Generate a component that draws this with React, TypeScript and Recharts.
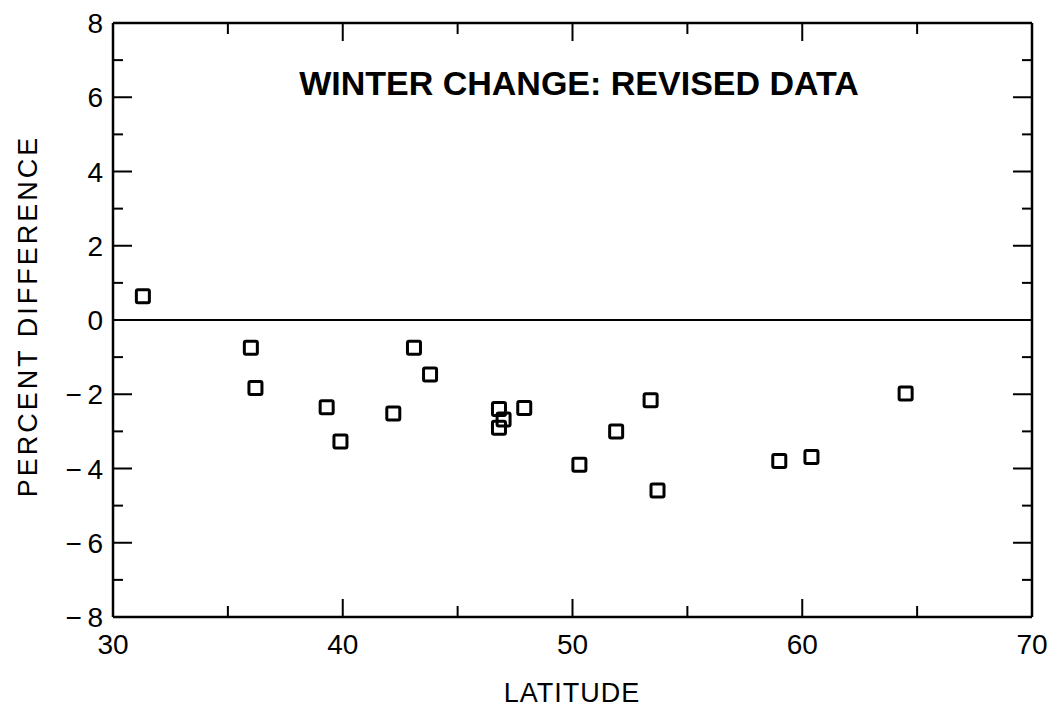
import React from "react";
import { ScatterChart, Scatter, XAxis, YAxis, ReferenceLine } from "recharts";

// latitude (deg) vs winter percent difference
const latitude = [31.3, 36.0, 36.2, 39.3, 39.9, 42.2, 43.1, 43.8, 46.8, 47.0, 46.8, 47.9, 50.3, 51.9, 53.4, 53.7, 59.0, 60.4, 64.5];
const percentDiff = [0.64, -0.75, -1.83, -2.35, -3.27, -2.52, -0.75, -1.47, -2.4, -2.68, -2.9, -2.37, -3.9, -3.0, -2.16, -4.59, -3.8, -3.69, -1.98];

const xTicks = [30, 35, 40, 45, 50, 55, 60, 65, 70];
const yTicks = [-8, -7, -6, -5, -4, -3, -2, -1, 0, 1, 2, 3, 4, 5, 6, 7, 8];

const TITLE = "WINTER CHANGE: REVISED DATA";
const X_LABEL = "LATITUDE";
const Y_LABEL = "PERCENT DIFFERENCE";

const FONT = "'Liberation Sans', Arial, Helvetica, sans-serif";

const data = latitude.map((lat, i) => ({ lat, pct: percentDiff[i] }));

const fmtY = (v: number) => (v < 0 ? `\u2212\u2009${Math.abs(v)}` : `${v}`);

function XTick(props: any) {
  const { x, y, payload, top } = props;
  const v = payload.value as number;
  const major = v % 10 === 0;
  const len = major ? 18 : 11;
  return (
    <g>
      <line x1={x} x2={x} y1={y} y2={top ? y + len : y - len} stroke="#000" strokeWidth={2} />
      {!top && major && (
        <text x={x} y={y + 37} textAnchor="middle" fontSize={28} fontFamily={FONT} fill="#000">
          {v}
        </text>
      )}
    </g>
  );
}

function YTick(props: any) {
  const { x, y, payload, right } = props;
  const v = payload.value as number;
  const major = v % 2 === 0;
  const len = major ? 19 : 10;
  return (
    <g>
      <line x1={x} x2={right ? x - len : x + len} y1={y} y2={y} stroke="#000" strokeWidth={2} />
      {!right && major && (
        <text x={x - 10} y={y + 10} textAnchor="end" fontSize={28} fontFamily={FONT} fill="#000">
          {fmtY(v)}
        </text>
      )}
    </g>
  );
}

function Square(props: any) {
  const { cx, cy } = props;
  return <rect x={cx - 6.5} y={cy - 6.5} width={13} height={13} rx={1.5} fill="none" stroke="#000" strokeWidth={3} />;
}

export default function App() {
  return (
    <div style={{ position: "absolute", left: 0, top: 0, width: 1054, height: 707, background: "#fff" }}>
      <ScatterChart width={1054} height={707} margin={{ top: 22, right: 21, bottom: 0, left: 0 }}>
        <XAxis
          xAxisId="b"
          dataKey="lat"
          type="number"
          domain={[30, 70]}
          ticks={xTicks}
          interval={0}
          height={90}
          tickSize={0}
          tickMargin={0}
          tickLine={false}
          axisLine={{ stroke: "#000", strokeWidth: 2.5 }}
          tick={<XTick />}
        />
        <XAxis
          xAxisId="t"
          orientation="top"
          dataKey="lat"
          type="number"
          domain={[30, 70]}
          ticks={xTicks}
          interval={0}
          height={1}
          tickSize={0}
          tickMargin={0}
          tickLine={false}
          axisLine={{ stroke: "#000", strokeWidth: 2.5 }}
          tick={<XTick top />}
        />
        <YAxis
          yAxisId="l"
          dataKey="pct"
          type="number"
          domain={[-8, 8]}
          ticks={yTicks}
          interval={0}
          width={113}
          tickSize={0}
          tickMargin={0}
          tickLine={false}
          axisLine={{ stroke: "#000", strokeWidth: 2.5 }}
          tick={<YTick />}
        />
        <YAxis
          yAxisId="r"
          orientation="right"
          dataKey="pct"
          type="number"
          domain={[-8, 8]}
          ticks={yTicks}
          interval={0}
          width={1}
          tickSize={0}
          tickMargin={0}
          tickLine={false}
          axisLine={{ stroke: "#000", strokeWidth: 2.5 }}
          tick={<YTick right />}
        />
        <ReferenceLine xAxisId="b" yAxisId="l" y={0} stroke="#000" strokeWidth={1.8} />
        <Scatter xAxisId="b" yAxisId="l" data={data} shape={<Square />} isAnimationActive={false} />
        <Scatter xAxisId="t" yAxisId="r" data={data} shape={() => <g />} isAnimationActive={false} />
      </ScatterChart>
      <svg width={1054} height={707} style={{ position: "absolute", left: 0, top: 0, pointerEvents: "none" }}>
        <text x={579} y={95} textAnchor="middle" fontSize={34} fontWeight="bold" fontFamily={FONT} fill="#000">
          {TITLE}
        </text>
        <text x={572} y={702} textAnchor="middle" fontSize={27} fontFamily={FONT} fill="#000" letterSpacing={1}>
          {X_LABEL}
        </text>
        <text
          x={37}
          y={316}
          transform="rotate(-90 37 316)"
          textAnchor="middle"
          fontSize={27}
          fontFamily={FONT}
          fill="#000"
          letterSpacing={3}
        >
          {Y_LABEL}
        </text>
      </svg>
    </div>
  );
}
